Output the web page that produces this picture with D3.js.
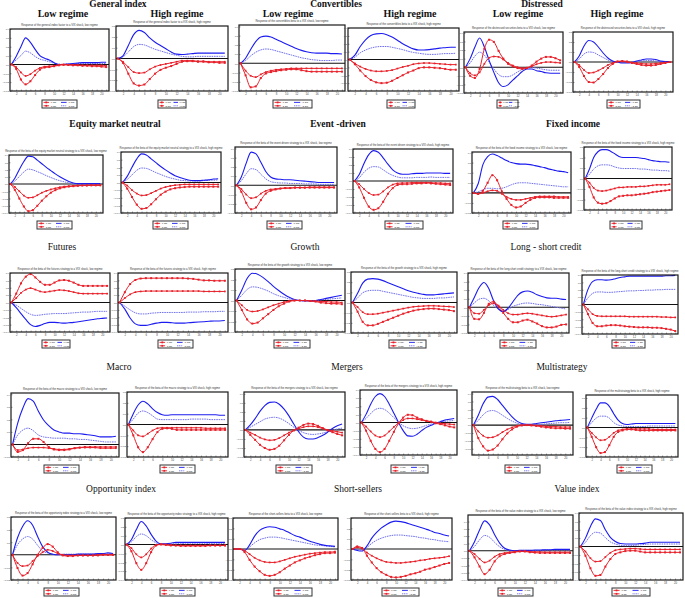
<!DOCTYPE html>
<html><head><meta charset="utf-8">
<script src="https://cdn.jsdelivr.net/npm/d3@7"></script>
<style>body{margin:0;background:#fff}svg{display:block}</style>
</head><body><svg id="c" width="685" height="598"></svg>
<script>
// ---------------- DATA ----------------
const groups = ["General index","Convertibles","Distressed","Equity market neutral","Event -driven","Fixed income",
  "Futures","Growth","Long - short credit","Macro","Mergers","Multistrategy","Opportunity index","Short-sellers","Value index"];
const regimes = ["Low regime","High regime"];
const subjects = ["the general index factor","the convertibles beta","the distressed securities beta",
  "the beta of the equity market neutral strategy","the beta of the event driven strategy","the beta of the fixed income strategy",
  "the beta of the futures strategy","the beta of the growth strategy","the beta of the long-short credit strategy",
  "the beta of the macro strategy","the beta of the mergers strategy","the multistrategy beta",
  "the beta of the opportunity index strategy","the short-sellers beta","the beta of the value index strategy"];
const periods = d3.range(1, 22);
const xTicks = [2,4,6,8,10,12,14,16,18,20];
const legendLabels = ["-1 SD","+1 SD","-2 SD","+2 SD"];

const yDomains = [[-3,4],[-3,3],[-3,4.15],[-4,4],[-3,4.1],[-3,3],
  [-4,4],[-4,4],[-3,4.15],[-4,4],[-2,4.05],[-3,3],
  [-4,4],[-4,4],[-3,3],[-3,3],[-3,4],[-4,4],
  [-1,4.1],[-3,3],[-3,4.2],[-4,4],[-3.8,4.2],[-3,3.3],
  [-2,3],[-4,3],[-3,3],[-3,3],[-4,4.9],[-4,4]];

const blueSolid = [
[0,0.9,2.0,3.0,2.5,1.7,1.0,0.7,0.5,0.2,0.0,0.0,0.05,0.1,0.15,0.2,0.2,0.2,0.2,0.25,0.25],
[0,0.25,1.2,2.2,2.6,2.4,1.9,1.5,1.2,0.9,0.6,0.4,0.37,0.4,0.45,0.5,0.5,0.5,0.5,0.5,0.5],
[0,0.55,1.5,2.35,2.85,2.95,2.85,2.6,2.35,2.1,1.85,1.6,1.4,1.25,1.15,1.1,1.1,1.1,1.05,1.05,1.0],
[0,0.55,1.65,2.5,3.05,3.25,3.3,3.15,2.85,2.45,2.0,1.65,1.35,1.2,1.2,1.25,1.35,1.45,1.5,1.55,1.55],
[0,1.0,2.35,3.4,2.35,0.8,-0.6,-1.8,-2.25,-2.05,-1.5,-1.0,-0.5,-0.2,-0.2,-0.4,-0.5,-0.65,-0.7,-0.7,-0.7],
[0,0.6,1.6,2.15,2.0,1.5,0.9,0.4,0.1,0.0,-0.1,-0.1,-0.05,0.1,0.2,0.3,0.3,0.25,0.1,0.05,0.05],
[0,0.8,2.0,3.1,3.85,3.75,3.3,2.8,2.3,1.85,1.4,1.0,0.65,0.35,0.15,0.05,0.05,0.05,0.05,0.05,0.05],
[0,0.8,2.0,3.1,3.75,3.6,3.1,2.6,2.1,1.65,1.25,0.9,0.65,0.45,0.3,0.25,0.25,0.3,0.35,0.45,0.5],
[0,0.9,2.4,3.6,3.4,2.5,1.5,0.9,0.7,0.65,0.6,0.6,0.55,0.5,0.45,0.4,0.35,0.3,0.3,0.3,0.3],
[0,0.8,2.2,3.3,3.8,3.6,2.9,2.1,1.4,1.0,0.85,0.85,0.9,0.95,0.95,1.0,1.0,1.0,1.0,0.95,0.95],
[0,0.9,2.8,3.6,3.85,3.7,3.45,3.2,3.0,2.9,2.85,2.85,2.8,2.7,2.6,2.5,2.35,2.25,2.15,2.1,2.0],
[0,0.9,2.0,2.55,2.75,2.75,2.6,2.35,2.1,2.0,2.0,2.0,2.0,1.95,1.9,1.8,1.7,1.65,1.6,1.6,1.55],
[0,-0.7,-1.5,-2.3,-3.0,-3.25,-3.1,-2.85,-2.7,-2.7,-2.75,-2.8,-2.75,-2.7,-2.6,-2.5,-2.4,-2.3,-2.2,-2.15,-2.1],
[0,-0.9,-2.1,-2.9,-3.1,-3.1,-2.95,-2.8,-2.7,-2.7,-2.75,-2.8,-2.8,-2.75,-2.7,-2.65,-2.6,-2.55,-2.5,-2.5,-2.45],
[0,1.0,2.1,2.6,2.5,2.2,1.8,1.35,0.95,0.6,0.3,0.1,0.0,-0.05,-0.05,0.0,0.1,0.2,0.3,0.4,0.5],
[0,0.9,1.9,2.3,2.35,2.3,2.15,1.95,1.75,1.55,1.35,1.15,1.0,0.9,0.8,0.75,0.75,0.8,0.85,0.9,0.95],
[0,1.15,2.3,2.9,2.2,0.75,-0.2,-0.5,-0.1,0.65,1.4,1.8,1.9,1.75,1.45,1.25,1.1,1.05,1.05,0.95,0.9],
[0,2.05,3.1,3.35,3.35,3.3,3.35,3.5,3.65,3.75,3.85,3.85,3.85,3.85,3.85,3.85,3.85,3.85,3.9,3.9,3.95],
[0,1.7,2.9,3.65,3.45,2.65,1.95,1.5,1.15,1.0,0.9,0.9,0.85,0.85,0.8,0.75,0.7,0.6,0.6,0.6,0.65],
[0,1.0,1.8,2.15,1.9,1.45,1.1,0.9,0.85,0.9,0.9,0.9,0.9,0.9,0.9,0.9,0.9,0.9,0.9,0.85,0.85],
[0,0.55,1.25,2.05,2.7,3.05,3.1,2.85,2.3,1.55,0.65,-0.2,-0.8,-1.0,-1.0,-0.85,-0.6,-0.25,0.15,0.45,0.65],
[0,1.0,2.25,3.2,3.55,3.2,2.25,1.15,0,-1.0,-1.65,-1.7,-1.45,-1.0,-0.6,-0.35,-0.1,0.1,0.3,0.4,0.5],
[0,1.25,2.7,3.55,3.65,3.25,2.5,1.75,1.05,0.5,0.2,0.1,0.1,0.2,0.3,0.35,0.45,0.55,0.6,0.65,0.7],
[0,0.95,1.85,2.5,2.5,2.15,1.4,0.75,0.4,0.3,0.35,0.4,0.4,0.4,0.4,0.4,0.4,0.4,0.4,0.4,0.4],
[0,1.35,2.25,2.7,2.35,1.45,0.65,0.2,0.05,0,0,0,0,0.05,0.05,0.05,0.05,0.1,0.1,0.15,0.1],
[0,0.55,1.7,2.6,2.1,1.15,0.4,0.1,0.1,0.15,0.25,0.25,0.25,0.25,0.25,0.25,0.25,0.25,0.25,0.25,0.25],
[0,0,-0.15,0.4,1.25,1.8,2.05,2.15,2.1,1.95,1.8,1.55,1.3,1.15,0.95,0.75,0.6,0.45,0.35,0.3,0.25],
[0,-0.15,-0.2,0.3,1.05,1.6,2.05,2.35,2.6,2.7,2.65,2.55,2.4,2.25,2.1,1.95,1.8,1.6,1.5,1.35,1.25],
[0,1.25,2.85,4.1,3.55,2.2,1.05,0.35,0.1,0,0.05,0.05,0.05,0.1,0.1,0.15,0.15,0.2,0.2,0.2,0.2],
[0,1.0,2.4,3.3,3.1,2.0,1.1,0.6,0.35,0.3,0.3,0.3,0.35,0.4,0.5,0.5,0.5,0.5,0.5,0.5,0.5]];

const blueDotted = [
[0,0.5,1.0,1.5,1.3,0.9,0.6,0.45,0.3,0.15,0.05,0.0,0.05,0.05,0.1,0.1,0.1,0.1,0.1,0.1,0.1],
[0,0.15,0.6,1.1,1.3,1.25,1.05,0.85,0.7,0.55,0.4,0.3,0.2,0.15,0.15,0.2,0.2,0.2,0.2,0.2,0.2],
[0,0.3,0.8,1.2,1.45,1.55,1.5,1.35,1.2,1.05,0.9,0.75,0.6,0.5,0.4,0.35,0.3,0.3,0.3,0.35,0.35],
[0,0.3,0.85,1.2,1.45,1.6,1.65,1.65,1.55,1.4,1.25,1.05,0.9,0.8,0.7,0.65,0.65,0.7,0.75,0.75,0.8],
[0,0.5,1.3,1.75,1.4,0.6,-0.2,-0.85,-1.1,-1.1,-0.9,-0.55,-0.25,-0.1,-0.05,-0.1,-0.2,-0.3,-0.35,-0.35,-0.35],
[0,0.3,0.8,1.0,0.95,0.7,0.45,0.2,0.05,0,-0.05,-0.05,0,0.05,0.1,0.15,0.15,0.1,0.05,0.05,0.05],
[0,0.4,1.05,1.65,2.05,1.95,1.7,1.45,1.15,0.9,0.65,0.45,0.3,0.15,0.05,0,0,0,0,0,0],
[0,0.4,1.0,1.6,1.9,1.85,1.6,1.3,1.05,0.8,0.6,0.45,0.3,0.25,0.2,0.2,0.2,0.25,0.3,0.3,0.35],
[0,0.5,1.25,1.8,1.7,1.2,0.7,0.4,0.3,0.25,0.25,0.2,0.2,0.2,0.15,0.15,0.15,0.1,0.1,0.1,0.1],
[0,0.4,1.1,1.6,1.8,1.75,1.4,1.0,0.7,0.5,0.4,0.4,0.4,0.45,0.45,0.45,0.5,0.45,0.45,0.45,0.45],
[0,0.1,0.3,0.45,0.45,0.4,0.45,0.6,0.8,0.95,1.0,1.0,0.95,0.9,0.85,0.8,0.75,0.7,0.65,0.6,0.6],
[0,0.4,0.9,1.2,1.3,1.3,1.25,1.1,1.0,0.95,0.95,0.95,0.95,0.9,0.9,0.85,0.8,0.8,0.75,0.75,0.7],
[0,-0.35,-0.8,-1.25,-1.6,-1.75,-1.7,-1.6,-1.55,-1.5,-1.5,-1.5,-1.45,-1.4,-1.35,-1.3,-1.3,-1.25,-1.2,-1.2,-1.2],
[0,-0.5,-1.0,-1.4,-1.55,-1.55,-1.45,-1.4,-1.35,-1.35,-1.35,-1.35,-1.35,-1.3,-1.3,-1.3,-1.25,-1.25,-1.25,-1.2,-1.2],
[0,0.5,1.05,1.3,1.25,1.1,0.9,0.65,0.45,0.3,0.15,0.05,0,0,0,0,0.05,0.1,0.15,0.2,0.25],
[0,0.45,0.95,1.15,1.2,1.2,1.1,1.0,0.9,0.8,0.7,0.6,0.5,0.45,0.4,0.4,0.4,0.45,0.45,0.5,0.55],
[0,0.5,0.95,1.05,0.75,0.2,-0.2,-0.4,-0.25,0.1,0.3,0.45,0.5,0.45,0.35,0.3,0.2,0.1,0.0,-0.1,-0.2],
[0,0.9,1.5,1.7,1.7,1.65,1.65,1.7,1.75,1.8,1.85,1.85,1.9,1.9,1.95,1.95,2.0,2.0,2.05,2.05,2.05],
[0,0.75,1.15,1.3,1.1,0.75,0.6,0.55,0.5,0.5,0.5,0.45,0.45,0.4,0.4,0.35,0.3,0.25,0.2,0.2,0.2],
[0,0.5,1.05,1.25,1.1,0.8,0.5,0.45,0.45,0.45,0.45,0.45,0.45,0.5,0.5,0.5,0.5,0.45,0.45,0.45,0.45],
[0,0.3,0.6,0.9,1.2,1.35,1.4,1.3,1.05,0.7,0.3,-0.05,-0.3,-0.45,-0.5,-0.45,-0.35,-0.2,-0.05,0.1,0.2],
[0,0.5,1.1,1.6,1.75,1.6,1.15,0.6,0.05,-0.4,-0.65,-0.75,-0.7,-0.55,-0.35,-0.2,-0.05,0.05,0.15,0.2,0.25],
[0,0.6,1.3,1.75,1.85,1.65,1.25,0.85,0.5,0.25,0.1,0.05,0.05,0.05,0.1,0.15,0.2,0.25,0.3,0.3,0.35],
[0,0.5,0.95,1.15,1.15,0.95,0.5,0.25,0.15,0.1,0.1,0.1,0.1,0.1,0.15,0.15,0.15,0.15,0.15,0.15,0.15],
[0,0.8,1.25,1.45,1.25,0.75,0.3,0.15,0.05,0,0.05,0.05,0.05,0.05,0.05,0.05,0.05,0.05,0.05,0.05,0.05],
[0,0.3,0.9,1.2,1.0,0.55,0.2,0.05,0.05,0.05,0.1,0.1,0.15,0.15,0.15,0.15,0.15,0.1,0.1,0.1,0.1],
[0,0,-0.1,0.2,0.6,0.9,1.05,1.15,1.15,1.1,1.0,0.9,0.8,0.7,0.6,0.5,0.4,0.35,0.3,0.25,0.2],
[0,-0.05,-0.1,0.15,0.55,0.85,1.05,1.2,1.3,1.35,1.35,1.3,1.25,1.2,1.1,1.05,0.95,0.9,0.8,0.75,0.7],
[0,0.6,1.5,2.1,1.85,1.15,0.55,0.2,0.05,0,0.05,0.05,0.05,0.05,0.05,0.1,0.1,0.1,0.1,0.1,0.1],
[0,0.5,1.3,1.7,1.6,1.05,0.55,0.3,0.15,0.1,0.1,0.15,0.2,0.25,0.3,0.3,0.3,0.3,0.3,0.3,0.3]];

const redLarge = [
[0,-0.5,-1.7,-2.25,-1.9,-1.2,-0.6,-0.35,-0.3,-0.2,-0.1,-0.05,-0.05,-0.1,-0.1,-0.15,-0.15,-0.2,-0.2,-0.25,-0.3],
[0,-0.4,-1.4,-2.3,-2.5,-2.4,-1.9,-1.4,-1.05,-0.85,-0.7,-0.5,-0.3,-0.25,-0.25,-0.3,-0.3,-0.35,-0.35,-0.4,-0.4],
[0,-1.3,-2.6,-2.5,-1.6,-1.1,-0.95,-0.85,-0.75,-0.7,-0.65,-0.65,-0.75,-0.85,-0.9,-0.9,-0.9,-0.9,-0.9,-0.9,-0.9],
[0,-0.6,-1.4,-2.1,-2.6,-2.9,-3.0,-2.95,-2.7,-2.35,-2.0,-1.65,-1.4,-1.1,-1.0,-1.0,-1.05,-1.1,-1.2,-1.3,-1.3],
[0,-1.0,-1.25,-0.2,2.15,3.2,2.95,1.9,1.0,0.4,0.1,-0.1,-0.2,-0.1,0.2,0.65,1.0,1.2,1.2,1.05,0.8],
[0,-0.5,-1.4,-2.0,-2.05,-1.7,-1.2,-0.6,-0.2,0.05,0.1,0.05,-0.1,-0.2,-0.3,-0.35,-0.35,-0.3,-0.2,-0.1,0.0],
[0,-0.8,-2.0,-3.1,-3.75,-3.6,-3.0,-2.3,-1.7,-1.2,-0.85,-0.6,-0.45,-0.35,-0.3,-0.25,-0.2,-0.2,-0.15,-0.15,-0.15],
[0,-0.8,-1.9,-2.9,-3.45,-3.35,-2.85,-2.2,-1.6,-1.2,-0.9,-0.75,-0.65,-0.6,-0.55,-0.55,-0.55,-0.55,-0.55,-0.55,-0.55],
[0,-0.7,-1.9,-2.6,-2.4,-1.6,-0.9,-0.6,-0.45,-0.35,-0.3,-0.3,-0.25,-0.25,-0.25,-0.25,-0.25,-0.25,-0.25,-0.25,-0.25],
[0,-0.8,-2.1,-3.2,-3.6,-3.4,-2.6,-1.6,-0.9,-0.5,-0.4,-0.4,-0.35,-0.3,-0.3,-0.25,-0.3,-0.35,-0.4,-0.45,-0.5],
[0,-0.1,0.2,1.0,1.75,1.25,0.15,-0.6,-1.2,-1.45,-1.35,-1.0,-0.7,-0.5,-0.45,-0.45,-0.45,-0.5,-0.5,-0.5,-0.5],
[0,-0.8,-1.8,-2.3,-2.4,-2.35,-2.15,-1.9,-1.7,-1.65,-1.6,-1.6,-1.55,-1.5,-1.45,-1.4,-1.3,-1.25,-1.2,-1.15,-1.1],
[0,1.2,2.6,3.5,3.85,3.4,2.8,2.4,2.4,2.7,3.0,3.05,2.95,2.7,2.4,2.25,2.25,2.25,2.25,2.25,2.25],
[0,1.4,2.5,3.05,3.25,3.3,3.3,3.3,3.3,3.3,3.3,3.3,3.3,3.25,3.2,3.1,3.0,3.0,2.95,2.95,2.95],
[0,-0.9,-1.8,-2.2,-2.1,-1.7,-1.3,-0.9,-0.55,-0.3,-0.1,0,0,0,-0.05,-0.1,-0.2,-0.25,-0.3,-0.3,-0.35],
[0,-0.9,-1.9,-2.25,-2.25,-2.1,-1.9,-1.7,-1.5,-1.3,-1.1,-0.95,-0.8,-0.7,-0.65,-0.6,-0.6,-0.65,-0.7,-0.75,-0.85],
[0,-1.35,-1.4,-0.65,0.4,0.65,0.1,-0.65,-1.35,-1.75,-1.75,-1.55,-1.45,-1.65,-1.9,-2.2,-2.35,-2.35,-2.25,-2.05,-2.0],
[0,-1.3,-2.5,-2.95,-2.95,-2.85,-2.8,-2.8,-2.85,-2.95,-3.0,-3.05,-3.1,-3.1,-3.1,-3.15,-3.15,-3.2,-3.3,-3.4,-3.6],
[0,-0.6,-0.45,0.1,0.45,0.45,0.2,-0.2,-0.4,-0.45,-0.45,-0.4,-0.3,-0.25,-0.2,-0.2,-0.2,-0.2,-0.2,-0.2,-0.2],
[0,-1.0,-2.1,-2.55,-2.1,-1.35,-0.7,-0.4,-0.35,-0.4,-0.5,-0.5,-0.5,-0.5,-0.5,-0.5,-0.5,-0.5,-0.5,-0.5,-0.5],
[0,-0.55,-1.1,-1.65,-2.0,-2.2,-2.1,-1.75,-1.15,-0.55,-0.05,0.25,0.55,0.7,0.65,0.45,0.2,-0.05,-0.25,-0.45,-0.6],
[0,-1.0,-2.25,-3.25,-3.65,-3.25,-2.25,-1.15,-0.1,0.6,0.95,0.9,0.6,0.4,0.2,0.1,-0.1,-0.2,-0.35,-0.5,-0.6],
[0,-1.65,-2.7,-3.25,-3.1,-2.6,-1.8,-1.05,-0.55,-0.2,-0.05,0,-0.05,-0.1,-0.2,-0.3,-0.35,-0.4,-0.4,-0.45,-0.45],
[0,-0.95,-2.0,-2.6,-2.5,-1.8,-0.95,-0.45,-0.3,-0.2,-0.2,-0.25,-0.3,-0.3,-0.3,-0.3,-0.3,-0.3,-0.3,-0.3,-0.3],
[0,-1.05,-1.65,-1.45,-0.75,0,0.55,0.85,0.65,0.2,-0.05,-0.1,-0.1,-0.05,-0.05,-0.05,-0.05,-0.05,0,0,0],
[0,-0.75,-2.1,-2.85,-2.1,-0.85,-0.1,0.05,0,-0.1,-0.1,-0.15,-0.15,-0.15,-0.15,-0.15,-0.15,-0.1,-0.1,-0.1,-0.1],
[0,0,-0.3,-1.05,-1.7,-2.15,-2.5,-2.6,-2.5,-2.25,-1.9,-1.6,-1.3,-1.1,-0.9,-0.75,-0.6,-0.5,-0.4,-0.4,-0.35],
[0,0.25,0.1,-0.65,-1.3,-1.85,-2.25,-2.5,-2.7,-2.75,-2.7,-2.6,-2.45,-2.35,-2.2,-2.0,-1.9,-1.75,-1.6,-1.45,-1.35],
[0,-0.9,-2.15,-3.2,-2.6,-1.45,-0.75,-0.45,-0.3,-0.2,-0.1,-0.1,-0.2,-0.25,-0.3,-0.3,-0.3,-0.3,-0.3,-0.3,-0.3],
[0,-1.1,-2.6,-3.5,-3.4,-2.4,-1.5,-0.9,-0.7,-0.55,-0.5,-0.5,-0.6,-0.7,-0.7,-0.7,-0.7,-0.7,-0.7,-0.7,-0.7]];

const redSmall = [
[0,-0.3,-0.9,-1.3,-1.1,-0.7,-0.4,-0.25,-0.2,-0.15,-0.05,0,-0.05,-0.05,-0.05,-0.1,-0.1,-0.1,-0.1,-0.1,-0.15],
[0,-0.3,-0.8,-1.25,-1.35,-1.3,-1.0,-0.75,-0.6,-0.5,-0.4,-0.3,-0.2,-0.2,-0.2,-0.25,-0.25,-0.3,-0.3,-0.3,-0.3],
[0,-0.8,-1.35,-1.5,-1.2,-0.95,-0.8,-0.7,-0.65,-0.6,-0.55,-0.55,-0.55,-0.55,-0.55,-0.55,-0.55,-0.55,-0.55,-0.55,-0.55],
[0,-0.5,-0.9,-1.2,-1.4,-1.5,-1.5,-1.45,-1.35,-1.15,-0.95,-0.8,-0.6,-0.5,-0.45,-0.45,-0.5,-0.55,-0.6,-0.65,-0.65],
[0,-0.7,-0.95,-0.6,0.4,1.1,1.25,1.2,0.9,0.5,0.2,0.0,-0.1,-0.05,0.1,0.35,0.5,0.6,0.6,0.55,0.5],
[0,-0.3,-0.8,-1.1,-1.05,-0.85,-0.6,-0.3,-0.1,0.05,0.05,0.0,-0.05,-0.1,-0.15,-0.2,-0.2,-0.15,-0.1,-0.05,0],
[0,-0.4,-1.0,-1.6,-1.9,-1.85,-1.55,-1.2,-0.95,-0.75,-0.6,-0.45,-0.35,-0.3,-0.25,-0.2,-0.2,-0.2,-0.2,-0.2,-0.2],
[0,-0.4,-1.0,-1.45,-1.7,-1.65,-1.4,-1.1,-0.8,-0.6,-0.45,-0.35,-0.3,-0.25,-0.25,-0.25,-0.25,-0.25,-0.25,-0.25,-0.25],
[0,-0.4,-1.0,-1.4,-1.3,-0.9,-0.6,-0.45,-0.4,-0.35,-0.3,-0.3,-0.25,-0.25,-0.25,-0.2,-0.2,-0.2,-0.2,-0.2,-0.2],
[0,-0.4,-1.0,-1.5,-1.75,-1.7,-1.3,-0.8,-0.45,-0.3,-0.25,-0.25,-0.2,-0.2,-0.2,-0.2,-0.2,-0.25,-0.25,-0.3,-0.3],
[0,-0.1,0.0,0.15,0.25,0.2,-0.1,-0.4,-0.6,-0.7,-0.7,-0.6,-0.5,-0.4,-0.35,-0.35,-0.35,-0.35,-0.4,-0.4,-0.4],
[0,-0.4,-0.9,-1.15,-1.2,-1.15,-1.05,-0.95,-0.85,-0.85,-0.8,-0.8,-0.8,-0.75,-0.75,-0.7,-0.65,-0.6,-0.6,-0.6,-0.55],
[0,0.6,1.3,1.75,1.95,1.75,1.5,1.4,1.5,1.6,1.7,1.65,1.55,1.4,1.25,1.2,1.2,1.2,1.2,1.2,1.2],
[0,0.6,1.1,1.4,1.5,1.55,1.55,1.55,1.55,1.55,1.55,1.55,1.55,1.55,1.55,1.55,1.5,1.5,1.5,1.5,1.5],
[0,-0.45,-0.9,-1.05,-1.0,-0.85,-0.65,-0.45,-0.3,-0.15,-0.05,0,0,0,-0.05,-0.05,-0.1,-0.1,-0.15,-0.15,-0.2],
[0,-0.45,-0.95,-1.15,-1.15,-1.1,-1.0,-0.9,-0.8,-0.7,-0.6,-0.5,-0.42,-0.38,-0.35,-0.32,-0.32,-0.35,-0.38,-0.4,-0.45],
[0,-0.7,-0.75,-0.3,0.25,0.45,0.2,-0.3,-0.7,-0.85,-0.85,-0.75,-0.7,-0.75,-0.85,-0.95,-1.05,-1.1,-1.05,-0.95,-0.85],
[0,-0.65,-1.3,-1.55,-1.6,-1.6,-1.6,-1.6,-1.6,-1.6,-1.65,-1.65,-1.65,-1.65,-1.65,-1.65,-1.65,-1.7,-1.7,-1.75,-1.75],
[0,-0.45,-0.4,-0.3,-0.25,-0.25,-0.25,-0.3,-0.35,-0.4,-0.4,-0.35,-0.3,-0.25,-0.25,-0.25,-0.25,-0.3,-0.3,-0.3,-0.3],
[0,-0.55,-1.0,-1.1,-0.85,-0.55,-0.35,-0.3,-0.3,-0.3,-0.3,-0.3,-0.3,-0.3,-0.3,-0.3,-0.35,-0.35,-0.35,-0.35,-0.35],
[0,-0.3,-0.55,-0.85,-1.05,-1.15,-1.1,-0.9,-0.6,-0.3,-0.05,0.15,0.3,0.4,0.4,0.3,0.15,0.0,-0.1,-0.2,-0.3],
[0,-0.5,-1.1,-1.6,-1.8,-1.6,-1.1,-0.55,-0.05,0.3,0.5,0.5,0.4,0.3,0.2,0.1,0.0,-0.1,-0.15,-0.2,-0.25],
[0,-0.8,-1.35,-1.6,-1.55,-1.3,-0.9,-0.55,-0.3,-0.1,0,0,0,-0.05,-0.1,-0.15,-0.2,-0.2,-0.25,-0.25,-0.25],
[0,-0.55,-1.0,-1.3,-1.25,-0.95,-0.55,-0.3,-0.2,-0.15,-0.15,-0.15,-0.15,-0.15,-0.15,-0.2,-0.2,-0.2,-0.2,-0.2,-0.2],
[0,-0.65,-0.9,-0.85,-0.5,-0.1,0.2,0.4,0.3,0.1,0,-0.05,-0.05,-0.05,-0.05,-0.05,-0.05,0,0,0,0],
[0,-0.4,-1.1,-1.45,-1.1,-0.45,-0.05,0,-0.05,-0.05,-0.1,-0.1,-0.1,-0.1,-0.1,-0.1,-0.1,-0.1,-0.1,-0.1,-0.1],
[0,0,-0.15,-0.5,-0.85,-1.1,-1.25,-1.3,-1.3,-1.2,-1.05,-0.9,-0.75,-0.65,-0.55,-0.45,-0.4,-0.35,-0.3,-0.3,-0.25],
[0,0.15,0.05,-0.35,-0.65,-0.9,-1.1,-1.25,-1.3,-1.35,-1.35,-1.3,-1.25,-1.2,-1.1,-1.05,-0.95,-0.9,-0.85,-0.8,-0.7],
[0,-0.45,-1.1,-1.6,-1.35,-0.8,-0.45,-0.3,-0.2,-0.1,-0.05,-0.05,-0.1,-0.15,-0.15,-0.2,-0.2,-0.2,-0.2,-0.2,-0.2],
[0,-0.6,-1.4,-1.8,-1.75,-1.25,-0.75,-0.45,-0.35,-0.3,-0.25,-0.25,-0.3,-0.35,-0.35,-0.35,-0.35,-0.35,-0.35,-0.35,-0.35]];

// ---------------- LAYOUT (positions only) ----------------
const boxes = [
[10,29,109,91],[116,26,228,91],[239,25,345,91],[348,28,459,91],[464,32,563,93],[573,32,673,92],
[9,155,103,213],[121,152,221,213],[235,147,337,213],[353,149,453,213],[472,152,571,213],[584,147,672,210],
[10,273,110,332],[118,273,228,332],[235,269,345,332],[351,272,457,333],[468,273,569,333],[582,275,678,334],
[11,393,119,457],[127,392,228,457],[244,392,345,457],[360,390,457,455],[472,392,573,455],[586,395,678,457],
[11,517,116,580],[125,518,228,580],[233,518,338,580],[351,518,452,580],[468,515,573,580],[579,513,683,580]];
const legendX = [[42,77],[158,186],[273,312],[387,415],[497,518],[607,640],
  [37,72],[153,188],[267,302],[385,423],[503,538],[610,642],
  [42,70],[158,193],[274,310],[389,426],[500,536],[612,645],
  [44,79],[160,195],[276,312],[391,428],[505,540],[617,652],
  [44,79],[160,195],[274,312],[382,419],[498,533],[612,650]];
const legendRowY = [100,221,340,465,588];
const groupPos = [[118,7],[336,7],[542,7],[115,127],[338,127],[573,127],[62,250],[305,250],[546,250],
  [119,370],[347,370],[562,370],[121,492],[358,492],[577,492]];
const regimePos = [[63,17],[177,17],[288,17],[410,17],[518,17],[617,17]];

// ---------------- DRAW ----------------
const svg = d3.select("#c");
svg.append("rect").attr("width",685).attr("height",598).attr("fill","#fff");
const RED = "#e8202a", BLUE = "#1c1cf0", LBLUE = "#7070f0";
const fmt = v => { const s = d3.format(".2f")(v/100); return s.replace(/^(-?)0\./,"$1."); };

groups.forEach((gname,k)=>{
  const [gx,gy] = groupPos[k];
  svg.append("text").attr("x",gx).attr("y",gy).attr("text-anchor","middle")
    .attr("font-family","Liberation Serif, DejaVu Serif, serif").attr("font-size",9.5)
    .attr("font-weight",k<6?"bold":"normal").attr("fill","#111").text(gname);
});
regimePos.forEach((p,i)=>{
  svg.append("text").attr("x",p[0]).attr("y",p[1]).attr("text-anchor","middle")
    .attr("font-family","Liberation Serif, DejaVu Serif, serif").attr("font-size",10)
    .attr("font-weight","bold").attr("fill","#111").text(regimes[i%2]);
});

boxes.forEach((b,i)=>{
  const [x0,y0,x1,y1] = b;
  const grp = Math.floor(i/2), reg = i%2;
  const x = d3.scaleLinear().domain([0.7,21.6]).range([x0,x1]);
  const y = d3.scaleLinear().domain(yDomains[i]).range([y1,y0]);
  const g = svg.append("g");
  g.append("text").attr("x",(x0+x1)/2).attr("y",y0-3.5).attr("text-anchor","middle")
    .attr("font-family","Liberation Sans, Arial, sans-serif").attr("font-size",2.7).attr("fill","#333")
    .text("Response of "+subjects[grp]+" to a VIX shock, "+(reg?"high":"low")+" regime");
  const dom = yDomains[i];
  const yt = d3.range(Math.ceil(dom[0]), Math.floor(dom[1])+1);
  const ya = g.append("g").attr("transform",`translate(${x0},0)`)
    .call(d3.axisLeft(y).tickValues(yt).tickSize(-1.5).tickPadding(1.2).tickFormat(fmt));
  ya.select(".domain").remove();
  ya.selectAll("line").attr("stroke","#444").attr("stroke-width",0.5);
  ya.selectAll("text").attr("font-size",2.5).attr("fill","#444").attr("font-family","Liberation Sans, Arial, sans-serif");
  const xa = g.append("g").attr("transform",`translate(0,${y1})`)
    .call(d3.axisBottom(x).tickValues(periods).tickSize(-1.5).tickPadding(2)
      .tickFormat(d=> xTicks.includes(d)? d : ""));
  xa.select(".domain").remove();
  xa.selectAll("line").attr("stroke","#444").attr("stroke-width",0.5);
  xa.selectAll("text").attr("font-size",2.8).attr("fill","#444").attr("font-family","Liberation Sans, Arial, sans-serif");
  g.append("line").attr("x1",x0).attr("x2",x1).attr("y1",y(0)).attr("y2",y(0))
    .attr("stroke","#111").attr("stroke-width",1.1);
  const line = d3.line().x((d,j)=>x(periods[j])).y(d=>y(d)).curve(d3.curveMonotoneX);
  g.append("path").attr("d",line(blueDotted[i])).attr("fill","none").attr("stroke",LBLUE)
    .attr("stroke-width",1).attr("stroke-dasharray","1.6,0.8");
  g.append("path").attr("d",line(blueSolid[i])).attr("fill","none").attr("stroke",BLUE).attr("stroke-width",1.1);
  [redSmall[i], redLarge[i]].forEach((ser,si)=>{
    g.append("path").attr("d",line(ser)).attr("fill","none").attr("stroke",RED).attr("stroke-width",1);
    const s = si? 2.0 : 1.7;
    g.selectAll(null).data(ser).join("rect")
      .attr("x",(d,j)=>x(periods[j])-s/2).attr("y",d=>y(d)-s/2)
      .attr("width",s).attr("height",s).attr("fill",RED);
  });
  g.append("rect").attr("x",x0).attr("y",y0).attr("width",x1-x0).attr("height",y1-y0)
    .attr("fill","none").attr("stroke","#1a1a1a").attr("stroke-width",1.2);
  // legend
  const [lx0,lx1] = legendX[i];
  const ly = legendRowY[Math.floor(i/6)];
  const lh = 8, lw = lx1-lx0;
  const lg = svg.append("g");
  lg.append("rect").attr("x",lx0).attr("y",ly).attr("width",lw).attr("height",lh)
    .attr("fill","#fff").attr("stroke","#333").attr("stroke-width",1);
  [0,1].forEach(r=>{
    [0,1].forEach(c=>{
      const cx = lx0 + 1.5 + c*lw/2, cy = ly + 2.4 + r*3.4;
      const col = c===0? RED : (r===0? BLUE : LBLUE);
      lg.append("line").attr("x1",cx).attr("x2",cx+lw*0.16).attr("y1",cy).attr("y2",cy)
        .attr("stroke",col).attr("stroke-width",0.9).attr("stroke-dasharray", (c===1&&r===1)?"1.2,0.6":null);
      if(c===0) lg.append("rect").attr("x",cx+lw*0.08-0.9).attr("y",cy-0.9).attr("width",1.8).attr("height",1.8).attr("fill",RED);
      lg.append("text").attr("x",cx+lw*0.19).attr("y",cy+0.9).attr("font-size",2.4)
        .attr("font-family","Liberation Sans, Arial, sans-serif").attr("fill","#333")
        .text(legendLabels[r*2+c]);
    });
  });
});
</script></body></html>
